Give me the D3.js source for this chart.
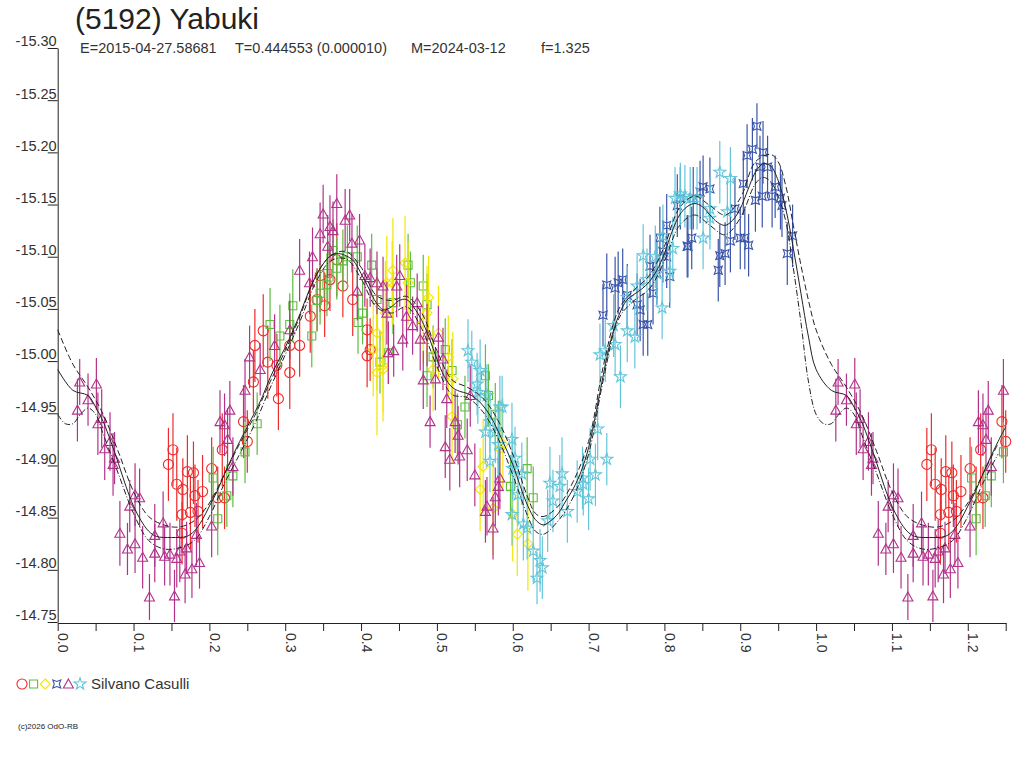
<!DOCTYPE html>
<html>
<head>
<meta charset="utf-8">
<script src="https://cdn.jsdelivr.net/npm/d3@7"></script>
<style>
body { margin: 0; background: #fff; }
text { font-family: "Liberation Sans", Arial, sans-serif; }
</style>
</head>
<body>
<svg id="chart" width="1024" height="768"></svg>
<script>
// observations: [phase, magnitude, error]
var redPts = [
  [0.152,-14.915,0.035],[0.146,-14.901,0.035],[0.157,-14.882,0.035],[0.165,-14.877,0.030],
  [0.171,-14.894,0.035],[0.179,-14.893,0.030],[0.164,-14.853,0.030],[0.175,-14.855,0.035],
  [0.181,-14.871,0.030],[0.191,-14.875,0.035],[0.185,-14.856,0.030],[0.203,-14.897,0.030],
  [0.217,-14.915,0.035],[0.220,-14.869,0.030],[0.211,-14.869,0.030],[0.164,-14.835,0.030],
  [0.245,-14.942,0.035],[0.250,-14.923,0.030],[0.260,-15.015,0.035],[0.258,-14.980,0.030],
  [0.271,-15.029,0.035],[0.277,-14.999,0.035],[0.289,-14.996,0.030],[0.291,-14.964,0.030],
  [0.306,-14.989,0.035],[0.306,-15.015,0.030],[0.319,-15.015,0.030],[0.333,-15.043,0.035],
  [0.342,-15.059,0.030],[0.346,-15.082,0.035],[0.352,-15.053,0.030],[0.359,-15.078,0.030],
  [0.368,-15.097,0.035],[0.376,-15.072,0.030],[0.389,-15.059,0.035],[0.408,-15.030,0.030],
  [0.412,-15.011,0.030],[0.408,-15.005,0.030]
];
var greenPts = [
  [0.205,-14.888,0.030],[0.211,-14.849,0.035],[0.223,-14.871,0.030],[0.231,-14.890,0.030],
  [0.247,-14.913,0.030],[0.263,-14.940,0.030],[0.280,-15.035,0.035],[0.293,-15.024,0.030],
  [0.310,-15.053,0.035],[0.306,-15.035,0.030],[0.335,-15.024,0.030],[0.342,-15.058,0.030],
  [0.346,-15.065,0.030],[0.355,-15.073,0.030],[0.356,-15.084,0.030],[0.363,-15.106,0.030],
  [0.368,-15.089,0.030],[0.376,-15.096,0.030],[0.382,-15.100,0.030],[0.395,-15.100,0.030],
  [0.396,-15.037,0.030],[0.402,-15.046,0.030],[0.414,-15.092,0.030],[0.425,-14.999,0.030],
  [0.421,-15.059,0.030],[0.462,-15.092,0.030],[0.482,-15.072,0.030],[0.465,-15.075,0.030],
  [0.487,-15.054,0.030],[0.442,-15.056,0.030],[0.436,-15.008,0.030],[0.495,-15.004,0.030],
  [0.487,-14.986,0.030],[0.511,-15.011,0.030],[0.520,-14.991,0.030],[0.527,-14.939,0.030],
  [0.537,-14.956,0.030],[0.564,-14.986,0.030],[0.568,-14.967,0.030],[0.577,-14.949,0.030],
  [0.581,-14.932,0.030],[0.597,-14.880,0.030],[0.619,-14.897,0.030],[0.627,-14.869,0.030]
];
var yellowPts = [
  [0.421,-15.027,0.055],[0.416,-15.011,0.045],[0.421,-14.989,0.060],[0.429,-14.996,0.045],
  [0.434,-15.075,0.045],[0.442,-15.087,0.050],[0.441,-15.075,0.040],[0.462,-15.075,0.040],
  [0.458,-15.094,0.045],[0.432,-15.046,0.050],[0.489,-15.061,0.040],[0.487,-15.046,0.045],
  [0.429,-14.992,0.050],[0.482,-15.037,0.040],[0.502,-15.027,0.045],[0.515,-15.004,0.040],
  [0.521,-14.983,0.045],[0.495,-14.992,0.040],[0.520,-14.947,0.045],[0.557,-14.877,0.040],
  [0.561,-14.899,0.045],[0.574,-14.859,0.045],[0.583,-14.916,0.040],[0.600,-14.853,0.045],
  [0.606,-14.834,0.040],[0.620,-14.825,0.045],[0.587,-14.920,0.045]
];
var bluePts = [
  [0.724,-15.073,0.030],[0.735,-15.070,0.030],[0.739,-15.075,0.030],[0.719,-15.044,0.030],
  [0.745,-15.078,0.030],[0.751,-15.063,0.030],[0.764,-15.054,0.030],[0.768,-15.049,0.030],
  [0.772,-15.035,0.030],[0.778,-15.035,0.030],[0.785,-15.065,0.030],[0.781,-15.091,0.030],
  [0.790,-15.084,0.030],[0.807,-15.081,0.030],[0.803,-15.100,0.030],[0.830,-15.110,0.030],
  [0.836,-15.118,0.030],[0.794,-15.118,0.030],[0.803,-15.130,0.030],[0.851,-15.167,0.030],
  [0.860,-15.165,0.030],[0.831,-15.110,0.030],[0.871,-15.087,0.030],[0.873,-15.101,0.030],
  [0.880,-15.103,0.030],[0.887,-15.115,0.030],[0.900,-15.118,0.030],[0.911,-15.111,0.030],
  [0.904,-15.170,0.030],[0.909,-15.197,0.030],[0.916,-15.203,0.030],[0.922,-15.225,0.022],
  [0.930,-15.200,0.030],[0.926,-15.186,0.030],[0.936,-15.186,0.030],[0.920,-15.154,0.030],
  [0.929,-15.158,0.030],[0.942,-15.158,0.030],[0.946,-15.167,0.030],[0.953,-15.156,0.030],
  [0.955,-15.149,0.030],[0.969,-15.120,0.030],[0.962,-15.103,0.030],[0.893,-15.146,0.030],
  [0.847,-15.162,0.030],[0.838,-15.156,0.030],[0.821,-15.156,0.030],[0.817,-15.149,0.030],
  [0.798,-15.105,0.030],[0.906,-15.118,0.030]
];
var purplePts = [
  [0.029,-14.980,0.022],[0.051,-14.978,0.025],[0.026,-14.953,0.030],[0.040,-14.963,0.025],
  [0.053,-14.940,0.030],[0.058,-14.945,0.028],[0.062,-14.916,0.030],[0.069,-14.923,0.028],
  [0.075,-14.907,0.025],[0.073,-14.901,0.030],[0.082,-14.835,0.031],[0.092,-14.820,0.025],
  [0.102,-14.872,0.030],[0.108,-14.869,0.028],[0.095,-14.861,0.025],[0.102,-14.825,0.028],
  [0.112,-14.812,0.030],[0.121,-14.774,0.022],[0.128,-14.833,0.030],[0.128,-14.816,0.028],
  [0.139,-14.845,0.030],[0.141,-14.813,0.028],[0.148,-14.815,0.030],[0.154,-14.775,0.025],
  [0.157,-14.811,0.028],[0.161,-14.818,0.030],[0.168,-14.796,0.028],[0.170,-14.821,0.025],
  [0.177,-14.801,0.028],[0.183,-14.834,0.030],[0.187,-14.807,0.025],[0.203,-14.842,0.030],
  [0.214,-14.942,0.030],[0.227,-14.953,0.028],[0.220,-14.939,0.030],[0.224,-14.925,0.030],
  [0.231,-14.899,0.028],
  [0.247,-14.972,0.030],[0.253,-15.004,0.030],[0.267,-14.992,0.025],[0.286,-15.015,0.030],
  [0.306,-15.030,0.028],[0.319,-15.087,0.030],[0.332,-15.075,0.030],[0.336,-15.100,0.028],
  [0.346,-15.122,0.030],[0.350,-15.141,0.028],[0.368,-15.151,0.028],[0.379,-15.135,0.030],
  [0.385,-15.140,0.025],[0.359,-15.129,0.030],[0.363,-15.125,0.028],[0.398,-15.116,0.025],
  [0.388,-15.113,0.028],[0.356,-15.110,0.030],[0.405,-15.082,0.030],[0.412,-15.080,0.028],
  [0.421,-15.075,0.030],[0.395,-15.067,0.028],[0.436,-15.008,0.030],[0.429,-15.072,0.028],
  [0.434,-15.046,0.030],[0.447,-15.072,0.030],[0.451,-15.082,0.030],[0.443,-15.010,0.025],
  [0.460,-15.043,0.030],[0.468,-15.034,0.028],[0.474,-15.056,0.028],[0.455,-15.021,0.030],
  [0.478,-15.021,0.030],[0.482,-14.982,0.028],[0.487,-15.025,0.030],[0.498,-14.983,0.030],
  [0.502,-15.023,0.030],[0.508,-15.002,0.030],[0.513,-14.964,0.028],[0.491,-14.942,0.025],
  [0.511,-14.918,0.030],[0.517,-14.906,0.030],[0.524,-14.942,0.030],[0.528,-14.929,0.028],
  [0.530,-14.909,0.030],[0.540,-14.915,0.030],[0.544,-14.967,0.030],[0.550,-14.891,0.030],
  [0.564,-14.856,0.030],[0.566,-14.861,0.028],[0.574,-14.840,0.030],[0.577,-14.870,0.028],
  [0.581,-14.880,0.028],[0.583,-14.888,0.030]
];
var cyanPts = [
  [0.541,-15.010,0.030],[0.546,-14.999,0.030],[0.557,-14.991,0.030],[0.553,-14.978,0.030],
  [0.554,-14.970,0.030],[0.566,-14.967,0.030],[0.583,-14.956,0.030],[0.570,-14.942,0.030],
  [0.564,-14.932,0.030],[0.577,-14.932,0.030],[0.581,-14.920,0.030],[0.599,-14.925,0.035],
  [0.603,-14.907,0.030],[0.570,-14.904,0.030],[0.612,-14.892,0.030],[0.607,-14.872,0.030],
  [0.599,-14.853,0.030],[0.614,-14.844,0.035],[0.619,-14.840,0.030],[0.627,-14.818,0.030],
  [0.649,-14.883,0.035],[0.653,-14.866,0.030],[0.646,-14.847,0.030],[0.586,-14.956,0.030],
  [0.600,-14.897,0.030],[0.632,-14.792,0.025],[0.636,-14.809,0.030],[0.639,-14.802,0.030],
  [0.665,-14.892,0.035],[0.662,-14.880,0.030],[0.672,-14.856,0.030],[0.685,-14.875,0.030],
  [0.692,-14.888,0.030],[0.693,-14.882,0.030],[0.700,-14.868,0.030],[0.702,-14.906,0.030],
  [0.709,-14.891,0.030],[0.724,-14.906,0.025],[0.712,-14.935,0.030],[0.715,-15.006,0.030],
  [0.722,-15.010,0.030],[0.733,-15.034,0.030],[0.735,-15.016,0.030],[0.742,-14.985,0.030],
  [0.751,-15.029,0.030],[0.761,-15.023,0.030],[0.751,-15.061,0.030],[0.764,-15.072,0.030],
  [0.777,-15.078,0.030],[0.790,-15.084,0.030],[0.797,-15.051,0.030],[0.772,-15.101,0.030],
  [0.788,-15.100,0.030],[0.798,-15.120,0.030],[0.821,-15.160,0.030],[0.827,-15.158,0.030],
  [0.834,-15.156,0.030],[0.843,-15.156,0.030],[0.814,-15.156,0.030],[0.873,-15.181,0.030],
  [0.887,-15.175,0.030],[0.883,-15.143,0.030],[0.860,-15.146,0.030],[0.851,-15.118,0.030],
  [0.811,-15.108,0.030],[0.807,-15.086,0.030],[0.860,-15.137,0.030]
];

// fitted light curve and its two envelopes: [phase, magnitude]
var fitMid = [
  [0.00,-14.992],[0.02,-14.972],[0.04,-14.967],[0.05,-14.956],[0.06,-14.942],[0.07,-14.923],
  [0.08,-14.902],[0.09,-14.880],[0.10,-14.861],[0.11,-14.847],[0.12,-14.837],[0.13,-14.832],
  [0.15,-14.831],[0.17,-14.832],[0.18,-14.837],[0.19,-14.847],[0.20,-14.861],[0.21,-14.875],
  [0.22,-14.892],[0.23,-14.908],[0.24,-14.923],[0.25,-14.937],[0.26,-14.951],[0.27,-14.966],
  [0.28,-14.984],[0.29,-14.999],[0.30,-15.013],[0.31,-15.029],[0.32,-15.046],[0.33,-15.065],
  [0.34,-15.081],[0.35,-15.093],[0.36,-15.101],[0.37,-15.103],[0.38,-15.101],[0.39,-15.096],
  [0.40,-15.084],[0.41,-15.070],[0.42,-15.056],[0.43,-15.049],[0.44,-15.052],[0.45,-15.058],
  [0.46,-15.059],[0.47,-15.051],[0.48,-15.039],[0.49,-15.022],[0.50,-15.002],[0.51,-14.985],
  [0.52,-14.975],[0.53,-14.971],[0.54,-14.969],[0.55,-14.965],[0.56,-14.958],[0.57,-14.948],
  [0.58,-14.934],[0.59,-14.918],[0.60,-14.901],[0.61,-14.880],[0.62,-14.861],[0.63,-14.848],
  [0.64,-14.843],[0.65,-14.847],[0.66,-14.854],[0.67,-14.866],[0.68,-14.878],[0.69,-14.894],
  [0.70,-14.917],[0.71,-14.951],[0.72,-14.989],[0.73,-15.022],[0.74,-15.044],[0.75,-15.058],
  [0.76,-15.064],[0.77,-15.069],[0.78,-15.076],[0.79,-15.087],[0.80,-15.103],[0.81,-15.124],
  [0.82,-15.140],[0.83,-15.148],[0.84,-15.151],[0.85,-15.148],[0.86,-15.140],[0.87,-15.133],
  [0.88,-15.130],[0.89,-15.135],[0.90,-15.146],[0.91,-15.164],[0.92,-15.181],[0.93,-15.189],
  [0.94,-15.187],[0.95,-15.173],[0.96,-15.146],[0.97,-15.108],[0.98,-15.065],[0.99,-15.023],
  [1.00,-14.992]
];
var fitLate = [
  [0.00,-15.030],[0.02,-14.997],[0.04,-14.975],[0.06,-14.949],[0.08,-14.913],[0.10,-14.875],
  [0.12,-14.851],[0.14,-14.843],[0.16,-14.841],[0.18,-14.847],[0.20,-14.864],[0.22,-14.892],
  [0.24,-14.921],[0.26,-14.948],[0.28,-14.980],[0.30,-15.010],[0.32,-15.044],[0.34,-15.081],
  [0.36,-15.101],[0.38,-15.105],[0.40,-15.090],[0.42,-15.063],[0.44,-15.058],[0.46,-15.062],
  [0.48,-15.046],[0.50,-15.010],[0.52,-14.982],[0.54,-14.975],[0.56,-14.965],[0.58,-14.944],
  [0.60,-14.911],[0.62,-14.869],[0.63,-14.854],[0.64,-14.851],[0.66,-14.861],[0.68,-14.885],
  [0.70,-14.923],[0.72,-14.997],[0.74,-15.050],[0.76,-15.068],[0.78,-15.082],[0.80,-15.110],
  [0.82,-15.147],[0.84,-15.158],[0.86,-15.149],[0.88,-15.140],[0.90,-15.156],[0.92,-15.191],
  [0.94,-15.198],[0.95,-15.191],[0.96,-15.168],[0.97,-15.130],[0.98,-15.092],[0.99,-15.058],
  [1.00,-15.030]
];
var fitEarly = [
  [0.00,-14.949],[0.01,-14.940],[0.02,-14.940],[0.03,-14.949],[0.04,-14.955],[0.05,-14.949],
  [0.06,-14.930],[0.08,-14.892],[0.10,-14.854],[0.12,-14.828],[0.14,-14.820],[0.16,-14.821],
  [0.18,-14.828],[0.20,-14.851],[0.22,-14.883],[0.24,-14.911],[0.26,-14.940],[0.28,-14.974],
  [0.30,-15.006],[0.32,-15.039],[0.34,-15.075],[0.36,-15.096],[0.38,-15.098],[0.40,-15.079],
  [0.42,-15.052],[0.44,-15.046],[0.46,-15.052],[0.48,-15.031],[0.50,-14.995],[0.52,-14.968],
  [0.54,-14.965],[0.56,-14.952],[0.58,-14.927],[0.60,-14.891],[0.62,-14.851],[0.63,-14.837],
  [0.64,-14.834],[0.66,-14.847],[0.68,-14.870],[0.70,-14.911],[0.72,-14.984],[0.74,-15.041],
  [0.76,-15.058],[0.78,-15.069],[0.80,-15.096],[0.82,-15.130],[0.84,-15.140],[0.86,-15.130],
  [0.88,-15.121],[0.90,-15.137],[0.92,-15.170],[0.93,-15.176],[0.94,-15.172],[0.95,-15.158],
  [0.96,-15.134],[0.97,-15.089],[0.98,-15.037],[0.99,-14.980],[1.00,-14.949]
];

var yTickValues = [-15.30,-15.25,-15.20,-15.15,-15.10,-15.05,-15.00,-14.95,-14.90,-14.85,-14.80,-14.75];
var xTickValues = d3.range(0, 26).map(function (i) { return i * 0.05; });

var titleText = "(5192) Yabuki";
var infoParts = ["E=2015-04-27.58681", "T=0.444553 (0.000010)", "M=2024-03-12", "f=1.325"];
var observer = "Silvano Casulli";

var series = [
  { data: redPts,    color: "#f02a2a", shape: "circle" },
  { data: greenPts,  color: "#5cbd3e", shape: "square" },
  { data: yellowPts, color: "#f2e600", shape: "diamond" },
  { data: bluePts,   color: "#3a55aa", shape: "bowtie" },
  { data: purplePts, color: "#b2328a", shape: "triangle" },
  { data: cyanPts,   color: "#62c6da", shape: "star" }
];

var svg = d3.select("#chart");

var x = d3.scaleLinear().domain([0, 1.25]).range([57.7, 1005.7]);
var y = d3.scaleLinear().domain([-14.75, -15.30]).range([622, 48]);

//marker outlines, centred on 0,0
function markerPath(shape) {
  if (shape === "square") return "M-4,-4H4V4H-4Z";
  if (shape === "diamond") return "M0,-5L5,0L0,5L-5,0Z";
  if (shape === "bowtie") return "M-4,-4L0,-2.5L4,-4L2.5,0L4,4L0,2.5L-4,4L-2.5,0Z";
  if (shape === "triangle") return "M0,-5L5,4L-5,4Z";
  if (shape === "star") return d3.symbol(d3.symbolStar).size(44)();
  return d3.symbol(d3.symbolCircle).size(80)();
}

//repeat the first quarter of the cycle after phase 1
function wrap(pts) {
  return pts.concat(pts.filter(function (p) { return p[0] > 0 && p[0] <= 0.25; })
    .map(function (p) { return [p[0] + 1].concat(p.slice(1)); }));
}

// axes
var xAxis = d3.axisBottom(x).tickValues(xTickValues).tickSize(8).tickSizeOuter(0)
  .tickFormat(function (d) { return Math.round(d * 100) % 10 === 0 ? d.toFixed(1) : ""; });
var gx = svg.append("g").attr("transform", "translate(0,623)").call(xAxis);
gx.select(".domain").attr("stroke", "#222");
gx.selectAll(".tick line").attr("stroke", "#222");
gx.selectAll(".tick text")
  .attr("transform", "rotate(90)")
  .attr("x", 10).attr("y", 0).attr("dy", 0)
  .attr("text-anchor", "start")
  .attr("fill", "#333")
  .style("font-size", "14px");

var yAxis = d3.axisLeft(y).tickValues(yTickValues).tickSize(10).tickSizeOuter(0)
  .tickFormat(function (d) { return d.toFixed(2); });
var gy = svg.append("g").attr("transform", "translate(57.7,0)").call(yAxis);
gy.select(".domain").attr("stroke", "#222");
gy.selectAll(".tick line").attr("stroke", "#222");
gy.selectAll(".tick text")
  .attr("x", -1).attr("dy", "-0.15em")
  .attr("fill", "#333")
  .style("font-size", "14.5px");

// data points with error bars
var plot = svg.append("g");
series.forEach(function (s) {
  var g = plot.append("g");
  var pts = wrap(s.data);
  g.selectAll("line").data(pts).enter().append("line")
    .attr("x1", function (d) { return x(d[0]); })
    .attr("x2", function (d) { return x(d[0]); })
    .attr("y1", function (d) { return y(d[1] - d[2]); })
    .attr("y2", function (d) { return y(d[1] + d[2]); })
    .attr("stroke", s.color)
    .attr("stroke-width", 1.2);
  g.selectAll("path").data(pts).enter().append("path")
    .attr("d", markerPath(s.shape))
    .attr("transform", function (d) { return "translate(" + x(d[0]) + "," + y(d[1]) + ")"; })
    .attr("fill", "none")
    .attr("stroke", s.color)
    .attr("stroke-width", 1.1);
});

// fit curves
var line = d3.line()
  .x(function (d) { return x(d[0]); })
  .y(function (d) { return y(d[1]); })
  .curve(d3.curveCatmullRom);

svg.append("path").datum(wrap(fitMid)).attr("d", line)
  .attr("fill", "none").attr("stroke", "#222").attr("stroke-width", 1);
svg.append("path").datum(wrap(fitLate)).attr("d", line)
  .attr("fill", "none").attr("stroke", "#222").attr("stroke-width", 1)
  .attr("stroke-dasharray", "6,3");
svg.append("path").datum(wrap(fitEarly)).attr("d", line)
  .attr("fill", "none").attr("stroke", "#222").attr("stroke-width", 1)
  .attr("stroke-dasharray", "6,2,1,2");

// titles
svg.append("text").attr("x", 75).attr("y", 29).attr("fill", "#222")
  .style("font-size", "30px").text(titleText);
var infoX = [80, 235, 411, 541];
infoParts.forEach(function (t, i) {
  svg.append("text").attr("x", infoX[i]).attr("y", 53).attr("fill", "#333")
    .style("font-size", "14.5px").text(t);
});

// legend
var legend = svg.append("g").attr("transform", "translate(0,684)");
series.forEach(function (s, i) {
  legend.append("path")
    .attr("d", markerPath(s.shape))
    .attr("transform", "translate(" + (22 + i * 11.6) + ",0)")
    .attr("fill", "none")
    .attr("stroke", s.color)
    .attr("stroke-width", 1.1);
});
legend.append("text").attr("x", 91).attr("y", 5).attr("fill", "#333")
  .style("font-size", "15px").text(observer);

svg.append("text").attr("x", 18).attr("y", 729).attr("fill", "#222")
  .style("font-size", "8px").text("(c)2026 OdO-RB");
</script>
</body>
</html>
